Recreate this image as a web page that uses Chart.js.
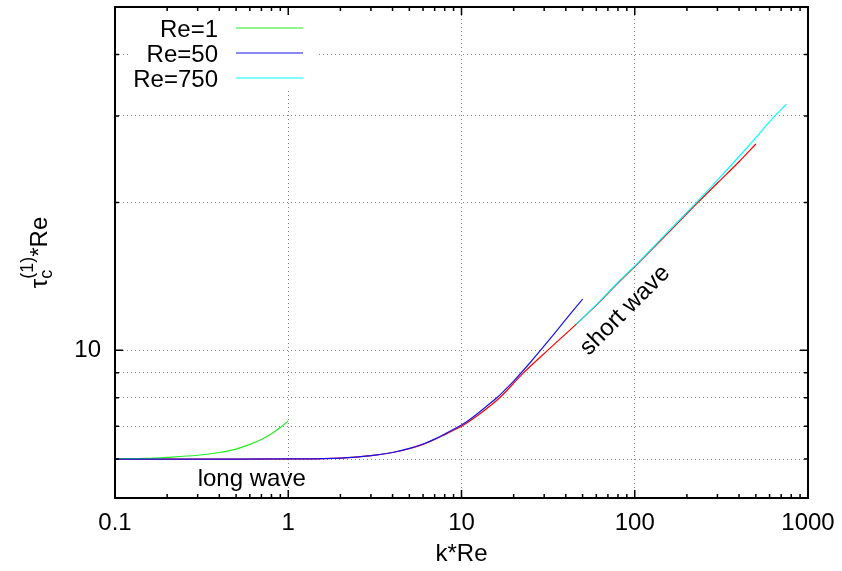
<!DOCTYPE html>
<html>
<head>
<meta charset="utf-8">
<script src="https://cdn.jsdelivr.net/npm/chart.js@4.4.0/dist/chart.umd.min.js"></script>
<style>
  html, body { margin: 0; padding: 0; background: #fff; }
  canvas { display: block; }
</style>
</head>
<body>
<canvas id="tauChart" width="842" height="571"></canvas>
<script>
// Axis ticks
const xTickValues = [0.1, 1, 10, 100, 1000];
const xTickLabels = ['0.1', '1', '10', '100', '1000'];
const yTickValues = [5, 6, 7, 8, 9, 10, 20, 30, 40, 50];

// Re=1 (green)
const kRe1 = [0.1, 0.15, 0.2, 0.3, 0.4, 0.5, 0.6, 0.7, 0.8, 0.9, 1.0];
const tauRe1 = [6.01, 6.02, 6.05, 6.11, 6.19, 6.29, 6.43, 6.58, 6.76, 6.96, 7.18];

// Re=50 (blue)
const kRe50 = [0.1, 0.5, 1, 2, 3, 4, 5, 6, 7, 8, 9, 10, 11, 12.5, 14, 16, 18, 20, 25, 30, 35, 40, 45, 50];
const tauRe50 = [6.0, 6.0, 6.005, 6.03, 6.1, 6.19, 6.31, 6.44, 6.59, 6.75, 6.9, 7.04, 7.2, 7.45, 7.7, 8.0, 8.33, 8.65, 9.45, 10.2, 10.9, 11.55, 12.15, 12.7];

// Re=750 (cyan)
const kRe750 = [46, 60, 80, 100, 150, 230, 300, 400, 500, 600, 750];
const tauRe750 = [11.3, 12.38, 13.75, 14.85, 17.2, 20.1, 22.2, 24.8, 27.1, 29.2, 31.7];

// red curve, no key entry
const kRed = [0.1, 0.5, 1, 2, 3, 4, 5, 6, 7, 8, 9, 10, 12.5, 16.6, 22.5, 32, 46, 60, 80, 100, 150, 230, 300, 400, 500];
const tauRed = [6.0, 6.0, 6.005, 6.03, 6.1, 6.19, 6.3, 6.43, 6.58, 6.73, 6.87, 7.0, 7.38, 8.0, 8.95, 10.05, 11.3, 12.35, 13.7, 14.8, 17.1, 19.95, 21.9, 24.2, 26.3];

// text labels placed in data coordinates
const longWavePos = { x: 0.3, y: 5.3 };
const shortWavePos = { x: 88, y: 12.05 };

const FONT = '"Liberation Sans", Arial, sans-serif';
const pts = (xs, ys) => xs.map((x, i) => ({ x: x, y: ys[i] }));

function curve(label, xs, ys, color, order) {
    return {
        label: label,
        data: pts(xs, ys),
        borderColor: color,
        backgroundColor: color,
        borderWidth: 1.2,
        pointRadius: 0,
        cubicInterpolationMode: 'monotone',
        fill: false,
        order: order,
    };
}

// key (gnuplot style: text left, sample right), opaque box
const keyPlugin = {
    id: 'key',
    beforeDatasetsDraw(chart) {
        const c = chart.ctx;
        c.save();
        c.fillStyle = '#fff';
        c.fillRect(131, 9, 185, 79);
        c.restore();
    },
    afterDatasetsDraw(chart) {
        const c = chart.ctx;
        c.save();
        c.font = '24px ' + FONT;
        c.textAlign = 'right';
        c.textBaseline = 'alphabetic';
        let row = 0;
        chart.data.datasets.forEach(ds => {
            if (!ds.label) return;
            const yMid = 28 + row * 25;
            c.fillStyle = '#000';
            c.fillText(ds.label, 218, yMid + 9);
            c.strokeStyle = ds.borderColor;
            c.lineWidth = 1.2;
            c.beginPath();
            c.moveTo(236, yMid);
            c.lineTo(303, yMid);
            c.stroke();
            row++;
        });
        c.restore();
    }
};

// frame, inward ticks, annotations
const framePlugin = {
    id: 'frame',
    afterDatasetsDraw(chart) {
        const c = chart.ctx;
        const a = chart.chartArea;
        const xs = chart.scales.x, ys = chart.scales.y;
        c.save();
        c.strokeStyle = '#000';
        c.lineWidth = 1.5;
        c.beginPath();
        [0.1, 1, 10, 100].forEach(d => {
            for (let m = 1; m <= 9; m++) {
                const px = xs.getPixelForValue(d * m);
                const len = m === 1 ? 8 : 4;
                c.moveTo(px, a.bottom); c.lineTo(px, a.bottom - len);
                c.moveTo(px, a.top); c.lineTo(px, a.top + len);
            }
        });
        yTickValues.forEach(v => {
            const py = ys.getPixelForValue(v);
            const len = v === 10 ? 8 : 4;
            c.moveTo(a.left, py); c.lineTo(a.left + len, py);
            c.moveTo(a.right, py); c.lineTo(a.right - len, py);
        });
        c.stroke();
        c.lineWidth = 2;
        c.strokeRect(a.left, a.top, a.right - a.left, a.bottom - a.top);

        c.fillStyle = '#000';
        c.font = '24px ' + FONT;
        c.textAlign = 'left';
        c.textBaseline = 'alphabetic';
        c.fillText('long wave', xs.getPixelForValue(longWavePos.x), ys.getPixelForValue(longWavePos.y));

        c.translate(xs.getPixelForValue(shortWavePos.x), ys.getPixelForValue(shortWavePos.y));
        c.rotate(-Math.PI / 4);
        c.textAlign = 'center';
        c.textBaseline = 'middle';
        c.fillText('short wave', 0, 0);
        c.restore();
    },
    afterDraw(chart) {
        // y title: tau_c^(1)*Re
        const c = chart.ctx;
        const a = chart.chartArea;
        c.save();
        c.translate(38, (a.top + a.bottom) / 2);
        c.rotate(-Math.PI / 2);
        c.fillStyle = '#000';
        c.textBaseline = 'alphabetic';
        c.textAlign = 'left';
        const big = '24px ' + FONT, small = '18px ' + FONT;
        c.font = big;
        const wTau = c.measureText('\u03c4').width;
        const wRest = c.measureText('*Re').width;
        c.font = small;
        const wScript = Math.max(c.measureText('c').width, c.measureText('(1)').width);
        let x = -(wTau + wScript + wRest) / 2;
        const base = 9;
        c.font = big;
        c.fillText('\u03c4', x, base);
        x += wTau;
        c.font = small;
        c.fillText('c', x, base + 5);
        c.fillText('(1)', x, base - 14);
        x += wScript;
        c.font = big;
        c.fillText('*Re', x, base);
        c.restore();
    }
};

new Chart(document.getElementById('tauChart'), {
    type: 'line',
    data: {
        datasets: [
            curve('Re=1', kRe1, tauRe1, '#22ee22', 2),
            curve('Re=50', kRe50, tauRe50, '#1515ee', 1),
            curve('Re=750', kRe750, tauRe750, '#00ffff', 0),
            curve('', kRed, tauRed, '#ff0000', 3),
        ],
    },
    options: {
        responsive: false,
        animation: false,
        layout: { padding: { top: 7, right: 34, bottom: 0, left: 0 } },
        plugins: {
            legend: { display: false },
            tooltip: { enabled: false },
        },
        scales: {
            x: {
                type: 'logarithmic',
                min: 0.1,
                max: 1000,
                afterBuildTicks: s => { s.ticks = xTickValues.map(v => ({ value: v })); },
                afterFit: s => {
                    s.height = 73;
                    s.paddingLeft = 0; s.paddingRight = 0;
                },
                ticks: {
                    autoSkip: false,
                    maxRotation: 0,
                    padding: 11,
                    color: '#000',
                    font: { family: FONT, size: 24 },
                    callback: (v) => {
                        const i = xTickValues.indexOf(v);
                        return i >= 0 ? xTickLabels[i] : '';
                    },
                },
                grid: { color: '#888', lineWidth: 1, drawTicks: false },
                border: { display: false, dash: [1, 3] },
                title: {
                    display: true,
                    text: 'k*Re',
                    color: '#000',
                    font: { family: FONT, size: 24 },
                    padding: { top: 0, bottom: 2 },
                },
            },
            y: {
                type: 'logarithmic',
                min: 5,
                max: 50,
                afterBuildTicks: s => { s.ticks = yTickValues.map(v => ({ value: v })); },
                afterFit: s => {
                    s.width = 115;
                    s.paddingTop = 0; s.paddingBottom = 0;
                },
                ticks: {
                    autoSkip: false,
                    padding: 14,
                    color: '#000',
                    font: { family: FONT, size: 24 },
                    callback: (v) => (v === 10 ? '10' : ''),
                },
                grid: { color: '#888', lineWidth: 1, drawTicks: false },
                border: { display: false, dash: [1, 3] },
            },
        },
    },
    plugins: [keyPlugin, framePlugin],
});
</script>
</body>
</html>
